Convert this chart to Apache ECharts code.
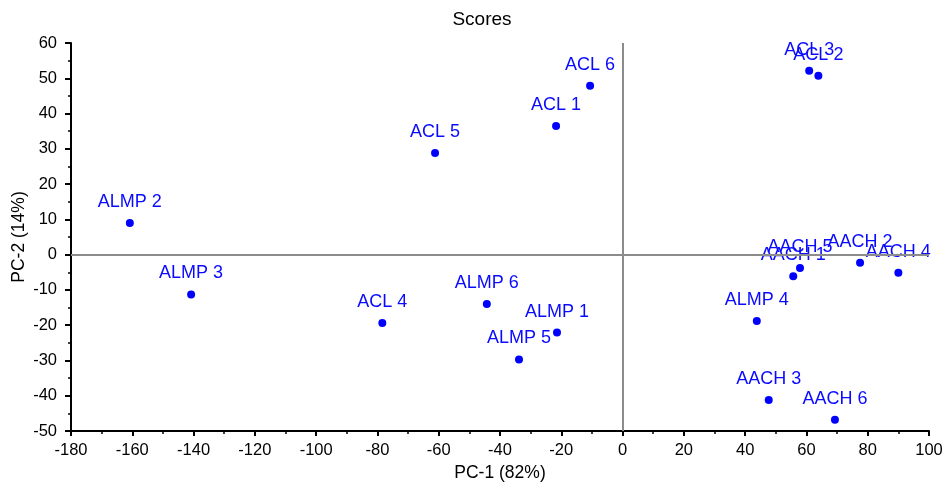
<!DOCTYPE html>
<html>
<head>
<meta charset="utf-8">
<script src="https://cdn.jsdelivr.net/npm/echarts@6/dist/echarts.min.js"></script>
<style>html,body{margin:0;padding:0;background:#fff}#c{width:945px;height:485px}</style>
</head>
<body>
<div id="c"></div>
<script>
const names = ["ACL 3","ACL 2","ACL 6","ACL 1","ACL 5","ALMP 2","ALMP 3","ACL 4","ALMP 6","ALMP 1","ALMP 5","ALMP 4","AACH 5","AACH 1","AACH 2","AACH 4","AACH 3","AACH 6"];
const pc1 = [60.9, 63.9, -10.6, -21.7, -61.2, -160.8, -140.8, -78.4, -44.3, -21.4, -33.8, 43.8, 57.9, 55.7, 77.5, 90.0, 47.7, 69.3];
const pc2 = [52.1, 50.7, 47.9, 36.5, 28.8, 9.0, -11.3, -19.4, -14.0, -22.1, -29.7, -18.8, -3.8, -6.1, -2.3, -5.1, -41.2, -46.8];
const titleText = "Scores";
const xName = "PC-1 (82%)";
const yName = "PC-2 (14%)";

const data = names.map((n, i) => ({ name: n, value: [pc1[i], pc2[i]] }));
const font = "Liberation Sans, Arial, sans-serif";
const chart = echarts.init(document.getElementById('c'), null, { renderer: 'canvas' });
chart.setOption({
  animation: false,
  backgroundColor: '#fff',
  title: { text: titleText, left: 477, top: 5, textAlign: 'center',
    textStyle: { fontFamily: font, fontSize: 19, fontWeight: 'normal', color: '#000' } },
  grid: { left: 71, right: 16, top: 43, bottom: 54, containLabel: false, outerBoundsMode: 'none' },
  xAxis: {
    type: 'value', min: -180, max: 100, interval: 20,
    name: xName, nameLocation: 'middle', nameGap: 33, nameMoveOverlap: false,
    nameTextStyle: { fontFamily: font, fontSize: 17.5, color: '#000' },
    axisLine: { onZero: false, lineStyle: { color: '#000', width: 2 } },
    axisTick: { show: true, length: 5, lineStyle: { color: '#000', width: 2 } },
    minorTick: { show: true, splitNumber: 2, length: 3, lineStyle: { color: '#000', width: 1.5 } },
    axisLabel: { fontFamily: font, fontSize: 16.5, color: '#000', margin: 11 },
    splitLine: { show: false }
  },
  yAxis: {
    type: 'value', min: -50, max: 60, interval: 10,
    name: yName, nameLocation: 'middle', nameGap: 43, nameRotate: 90, nameMoveOverlap: false,
    nameTextStyle: { fontFamily: font, fontSize: 17.5, color: '#000' },
    axisLine: { onZero: false, lineStyle: { color: '#000', width: 2 } },
    axisTick: { show: true, length: 6, lineStyle: { color: '#000', width: 2 } },
    minorTick: { show: true, splitNumber: 2, length: 3, lineStyle: { color: '#000', width: 1.5 } },
    axisLabel: { fontFamily: font, fontSize: 16.5, color: '#000', margin: 14 },
    splitLine: { show: false }
  },
  series: [{
    type: 'scatter',
    data: data,
    symbol: 'circle',
    symbolSize: 8,
    itemStyle: { color: '#0000ff', opacity: 1 },
    label: {
      show: true, position: 'top', distance: 8,
      formatter: p => p.name,
      fontFamily: font, fontSize: 18, color: '#0a0aff'
    },
    markLine: {
      silent: true, symbol: ['none', 'none'],
      label: { show: false },
      lineStyle: { color: '#8c8c8c', width: 2, type: 'solid', opacity: 1 },
      data: [{ xAxis: 0 }, { yAxis: 0 }]
    },
    z: 3
  }]
});
</script>
</body>
</html>
